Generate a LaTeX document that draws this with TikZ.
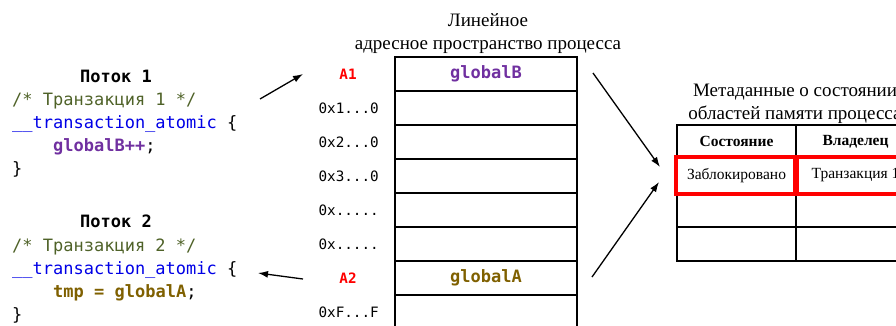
\documentclass[tikz,border=0pt]{standalone}
\usepackage{fontspec}
\setmainfont{Liberation Serif}
\newfontfamily\codefont{DejaVu Sans Mono}
\usetikzlibrary{arrows.meta}
\definecolor{cmt}{HTML}{4F6228}
\definecolor{kw}{HTML}{0000E6}
\definecolor{vb}{HTML}{7030A0}
\definecolor{va}{HTML}{7F6000}
\definecolor{ared}{HTML}{FF0000}
\tikzset{
  code/.style={anchor=base west, inner sep=0pt, font=\codefont\fontsize{17}{19}\selectfont},
  codebold/.style={code, font=\codefont\bfseries\fontsize{17}{19}\selectfont},
  addr/.style={anchor=base east, inner sep=0pt, font=\codefont\fontsize{14.3}{16}\selectfont},
  alabel/.style={anchor=base, inner sep=0pt, text=ared, font=\codefont\bfseries\fontsize{14.3}{16}\selectfont},
  memcell/.style={draw, line width=2pt, minimum width=182pt, minimum height=34pt, inner sep=0pt, font=\codefont\bfseries\fontsize{17}{19}\selectfont},
  title/.style={anchor=base, inner sep=0pt, font=\fontsize{19}{21}\selectfont},
  tcell/.style={draw, line width=2pt, minimum width=119pt, minimum height=34pt, inner sep=0pt, font=\fontsize{15.5}{17}\selectfont},
  theader/.style={tcell, minimum height=33pt, font=\bfseries\fontsize{15.5}{17}\selectfont},
  redbox/.style={draw=ared, line width=4pt},
  arr/.style={line width=1.3pt, -{Latex[length=10pt,width=7pt]}}
}
\begin{document}
\begin{tikzpicture}[x=1pt,y=-1pt]
\useasboundingbox (0,0) rectangle (896,325);
\clip (0,0) rectangle (896,325);
% thread 1
\node[codebold] (t1) at (80,82) {Поток 1};
\node[code, text=cmt] (c1) at (12,105) {/* Транзакция 1 */};
\node[code] (k1) at (12,128) {\textcolor{kw}{\_\_transaction\_atomic} \{};
\node[code] (g1) at (53,151) {\textcolor{vb}{\bfseries globalB++};};
\node[code] (e1) at (12,174) {\}};
% thread 2
\node[codebold] (t2) at (80,227) {Поток 2};
\node[code, text=cmt] (c2) at (12,251) {/* Транзакция 2 */};
\node[code] (k2) at (12,274) {\textcolor{kw}{\_\_transaction\_atomic} \{};
\node[code] (g2) at (53,297) {\textcolor{va}{\bfseries tmp = globalA};};
\node[code] (e2) at (12,320) {\}};
% memory title
\node[title] (mt1) at (488,26) {Линейное};
\node[title] (mt2) at (488,49) {адресное пространство процесса};
% memory cells
\node[memcell, text=vb] (m1) at (486,74) {globalB};
\node[memcell] (m2) at (486,108) {};
\node[memcell] (m3) at (486,142) {};
\node[memcell] (m4) at (486,176) {};
\node[memcell] (m5) at (486,210) {};
\node[memcell] (m6) at (486,244) {};
\node[memcell, text=va] (m7) at (486,278) {globalA};
\node[memcell] (m8) at (486,312) {};
% addresses
\node[alabel] (l1) at (348,79) {A1};
\node[addr] (l2) at (379,113) {0x1...0};
\node[addr] (l3) at (379,147) {0x2...0};
\node[addr] (l4) at (379,181) {0x3...0};
\node[addr] (l5) at (379,215) {0x.....};
\node[addr] (l6) at (379,249) {0x.....};
\node[alabel] (l7) at (348,283) {A2};
\node[addr] (l8) at (379,317) {0xF...F};
% metadata title
\node[title] (dt1) at (795,96) {Метаданные о состоянии};
\node[title] (dt2) at (795,119) {областей памяти процесса};
% metadata table
\node[theader] (h1) at (736.5,141.5) {Состояние};
\node[theader] (h2) at (855.5,141.5) {Владелец};
\node[tcell, minimum height=35pt] (r11) at (736.5,175.5) {Заблокировано};
\node[tcell, minimum height=35pt] (r12) at (855.5,175.5) {Транзакция 1};
\node[tcell] (r21) at (736.5,210) {};
\node[tcell] (r22) at (855.5,210) {};
\node[tcell] (r31) at (736.5,244) {};
\node[tcell] (r32) at (855.5,244) {};
\draw[redbox] (r11.north west) rectangle ([xshift=-2pt]r11.south east);
\draw[redbox] ([xshift=2pt]r12.north west) rectangle (r12.south east);
% arrows
\coordinate (s1) at (260,99);
\coordinate (d1) at (303,74);
\coordinate (s2) at (303,279);
\coordinate (d2) at (258,273);
\coordinate (s3) at (593,73);
\coordinate (d3) at (660,167);
\coordinate (s4) at (592,277);
\coordinate (d4) at (659,182);
\draw[arr] (s1) -- (d1);
\draw[arr] (s2) -- (d2);
\draw[arr] (s3) -- (d3);
\draw[arr] (s4) -- (d4);
\end{tikzpicture}
\end{document}
